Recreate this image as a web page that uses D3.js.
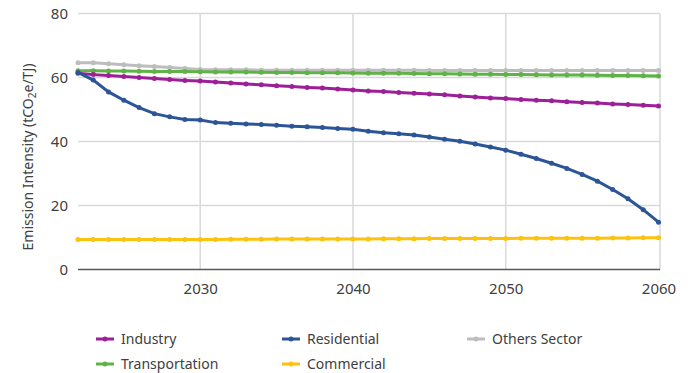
<!DOCTYPE html>
<html>
<head>
<meta charset="utf-8">
<script src="https://cdn.jsdelivr.net/npm/d3@7"></script>
<style>
    body { margin: 0; background: #fff; }
    text { font-family: 'Noto Sans', sans-serif; fill: #404040; }
</style>
</head>
<body>
<div class="container"></div>
<script>
// emission intensity by sector, yearly 2022-2060
const years = d3.range(2022, 2061);

const industry = [61.3, 60.9, 60.6, 60.3, 60.0, 59.7, 59.4, 59.1, 58.9,
    58.6, 58.3, 58.0, 57.7, 57.4, 57.2, 56.9, 56.7, 56.4, 56.1,
    55.8, 55.6, 55.3, 55.1, 54.85, 54.6, 54.25, 53.9, 53.6, 53.4,
    53.1, 52.9, 52.7, 52.4, 52.2, 52.0, 51.75, 51.55, 51.3, 51.1];

const residential = [61.6, 59.2, 55.5, 52.9, 50.6, 48.7, 47.7, 46.9, 46.7,
    45.9, 45.7, 45.5, 45.3, 45.1, 44.8, 44.6, 44.4, 44.1, 43.8,
    43.2, 42.7, 42.4, 42.0, 41.4, 40.7, 40.1, 39.2, 38.3, 37.3,
    36.0, 34.7, 33.2, 31.6, 29.7, 27.6, 25.0, 22.1, 18.7, 14.8];

const others = [64.6, 64.6, 64.3, 64.0, 63.7, 63.4, 63.1, 62.8, 62.5,
    62.4, 62.4, 62.4, 62.3, 62.3, 62.3, 62.3, 62.3, 62.3, 62.3,
    62.3, 62.3, 62.3, 62.3, 62.2, 62.2, 62.2, 62.2, 62.2, 62.2,
    62.2, 62.2, 62.2, 62.2, 62.2, 62.2, 62.2, 62.2, 62.2, 62.2];

const transportation = [62.1, 62.1, 62.0, 62.0, 61.95, 61.9, 61.9, 61.85, 61.8,
    61.75, 61.7, 61.7, 61.65, 61.6, 61.55, 61.5, 61.5, 61.45, 61.4,
    61.35, 61.3, 61.3, 61.25, 61.2, 61.15, 61.1, 61.05, 61.0, 60.95,
    60.9, 60.85, 60.8, 60.8, 60.75, 60.7, 60.65, 60.6, 60.55, 60.5];

const commercial = [9.4, 9.4, 9.4, 9.4, 9.4, 9.4, 9.4, 9.4, 9.4,
    9.4, 9.45, 9.45, 9.45, 9.5, 9.5, 9.5, 9.5, 9.55, 9.55,
    9.55, 9.6, 9.6, 9.6, 9.65, 9.65, 9.65, 9.7, 9.7, 9.7,
    9.75, 9.75, 9.75, 9.8, 9.8, 9.8, 9.85, 9.85, 9.9, 9.9];

const xTicks = [2030, 2040, 2050, 2060];
const yTicks = [0, 20, 40, 60, 80];

const series = [
    { name: 'Others Sector', values: others, color: '#bdbdbd' },
    { name: 'Transportation', values: transportation, color: '#5fb246' },
    { name: 'Industry', values: industry, color: '#9d1f98' },
    { name: 'Commercial', values: commercial, color: '#fdc20d' },
    { name: 'Residential', values: residential, color: '#2c5597' },
];
const legendOrder = ['Industry', 'Residential', 'Others Sector', 'Transportation', 'Commercial'];

const width = 691;
const height = 373;

const svg = d3.select('.container')
    .append('svg')
    .attr('width', width)
    .attr('height', height);

const x = d3.scaleLinear().domain([2022, 2060]).range([78, 658.5]);
const y = d3.scaleLinear().domain([0, 80]).range([269.5, 13.5]);

// grid
svg.append('g')
    .selectAll('line')
    .data(yTicks.filter(d => d > 0))
    .enter()
    .append('line')
    .attr('x1', x(2022))
    .attr('x2', x(2060) + 1.5)
    .attr('y1', d => y(d))
    .attr('y2', d => y(d))
    .attr('stroke', '#d9d9d9')
    .attr('stroke-width', 1.5);

svg.append('g')
    .selectAll('line')
    .data(xTicks)
    .enter()
    .append('line')
    .attr('x1', d => x(d) + (d === 2060 ? 1.5 : 0))
    .attr('x2', d => x(d) + (d === 2060 ? 1.5 : 0))
    .attr('y1', y(80))
    .attr('y2', y(0))
    .attr('stroke', '#d9d9d9')
    .attr('stroke-width', 1.5);

// axes
const xAxis = svg.append('g')
    .attr('transform', `translate(0,${y(0)})`)
    .call(d3.axisBottom(x).tickValues(xTicks).tickFormat(d3.format('d')).tickSize(0).tickPadding(14));
xAxis.select('.domain').attr('stroke', '#595959').attr('stroke-width', 1.5)
    .attr('d', `M${x(2022)},0H${x(2060) + 1.5}`);
xAxis.selectAll('text').attr('font-size', 15).attr('fill', '#404040');

const yAxis = svg.append('g')
    .attr('transform', `translate(${x(2022)},0)`)
    .call(d3.axisLeft(y).tickValues(yTicks).tickSize(0).tickPadding(10));
yAxis.select('.domain').remove();
yAxis.selectAll('text').attr('font-size', 15).attr('fill', '#404040');

// axis title
const title = svg.append('text')
    .attr('transform', `translate(33,157) rotate(-90)`)
    .attr('text-anchor', 'middle')
    .attr('font-size', 14);
title.append('tspan').text('Emission Intensity (tCO');
title.append('tspan').attr('font-size', 10).attr('dy', 3).text('2');
title.append('tspan').attr('dy', -3).text('e/TJ)');

// lines
const line = d3.line()
    .x((d, i) => x(years[i]))
    .y(d => y(d));

series.forEach(s => {
    const g = svg.append('g');
    g.append('path')
        .datum(s.values)
        .attr('fill', 'none')
        .attr('stroke', s.color)
        .attr('stroke-width', 3)
        .attr('d', line);
    g.selectAll('circle')
        .data(s.values)
        .enter()
        .append('circle')
        .attr('cx', (d, i) => x(years[i]))
        .attr('cy', d => y(d))
        .attr('r', 2.5)
        .attr('fill', s.color);
});

// legend
const legendCols = [96, 282, 467];
const legendRows = [339, 364];
legendOrder.forEach((name, i) => {
    const s = series.find(d => d.name === name);
    const lx = legendCols[i % 3];
    const ly = legendRows[Math.floor(i / 3)];
    const g = svg.append('g').attr('transform', `translate(${lx},${ly})`);
    g.append('line')
        .attr('x1', 0).attr('x2', 18)
        .attr('y1', 0).attr('y2', 0)
        .attr('stroke', s.color)
        .attr('stroke-width', 3);
    g.append('circle')
        .attr('cx', 9).attr('cy', 0).attr('r', 2.5)
        .attr('fill', s.color);
    g.append('text')
        .attr('x', 25)
        .attr('y', 0)
        .attr('dy', '0.35em')
        .attr('font-size', 14)
        .text(name);
});
</script>
</body>
</html>
